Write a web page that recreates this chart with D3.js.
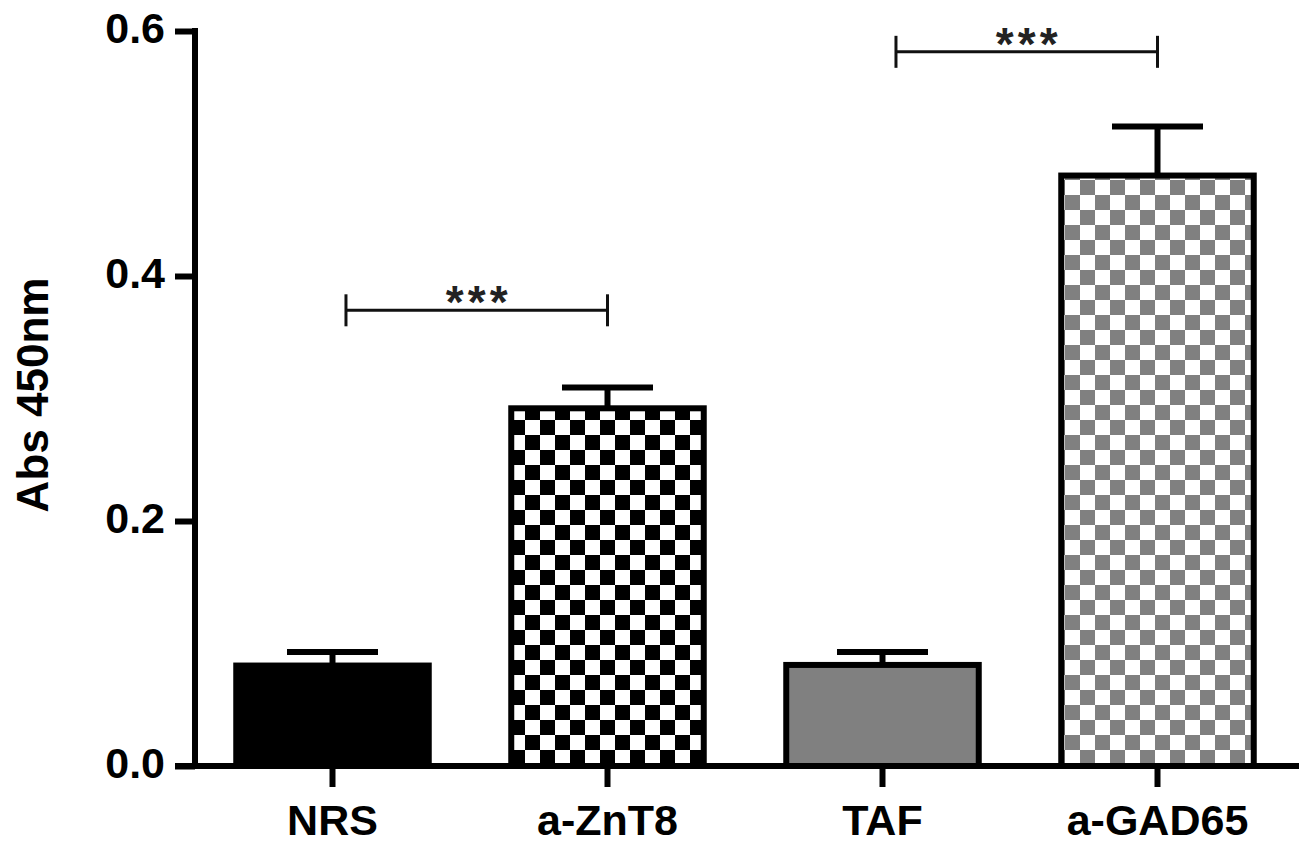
<!DOCTYPE html>
<html>
<head>
<meta charset="utf-8">
<script src="https://cdn.jsdelivr.net/npm/d3@7"></script>
<style>
  html, body { margin: 0; padding: 0; background: #fff; }
  svg { display: block; }
</style>
</head>
<body>
<div id="chart"></div>
<script>
// Data
const categories = ['NRS', 'a-ZnT8', 'TAF', 'a-GAD65'];
const means = [0.082, 0.292, 0.0825, 0.482];
const errTops = [0.093, 0.309, 0.093, 0.522];
const fills = ['solid-black', 'check-black', 'solid-gray', 'check-gray'];
const yTicks = [0.0, 0.2, 0.4, 0.6];
const brackets = [
  { from: 'NRS', to: 'a-ZnT8', level: 0.372, label: '***' },
  { from: 'TAF', to: 'a-GAD65', level: 0.583, label: '***' }
];

const width = 1299, height = 853;
const font = "'Liberation Sans', Arial, Helvetica, sans-serif";

const svg = d3.select('#chart')
  .append('svg')
  .attr('width', width)
  .attr('height', height);

// patterns
const defs = svg.append('defs');
const cell = 15;
function checker(id, color) {
  const p = defs.append('pattern')
    .attr('id', id)
    .attr('patternUnits', 'userSpaceOnUse')
    .attr('width', cell * 2)
    .attr('height', cell * 2);
  p.append('rect').attr('width', cell * 2).attr('height', cell * 2).attr('fill', '#fff');
  p.append('rect').attr('x', 0).attr('y', 0).attr('width', cell).attr('height', cell).attr('fill', color);
  p.append('rect').attr('x', cell).attr('y', cell).attr('width', cell).attr('height', cell).attr('fill', color);
}
checker('check-black', '#000');
checker('check-gray', '#808080');

const fillFor = {
  'solid-black': '#000',
  'solid-gray': '#808080',
  'check-black': 'url(#check-black)',
  'check-gray': 'url(#check-gray)'
};

const x = d3.scaleBand()
  .domain(categories)
  .range([195, 1295])
  .paddingInner(0.3)
  .paddingOuter(0.15);

const y = d3.scaleLinear()
  .domain([0, 0.6])
  .range([766, 31]);

const data = categories.map((c, i) => ({ name: c, mean: means[i], err: errTops[i], fill: fills[i] }));

// bars
svg.append('g')
  .selectAll('rect')
  .data(data)
  .enter()
  .append('rect')
  .attr('x', d => x(d.name))
  .attr('y', d => y(d.mean))
  .attr('width', x.bandwidth())
  .attr('height', d => y(0) - y(d.mean))
  .attr('fill', d => fillFor[d.fill])
  .attr('stroke', '#000')
  .attr('stroke-width', 6);

// error bars (upper only)
const capW = 91;
const eb = svg.append('g').attr('stroke', '#000').attr('stroke-width', 6);
data.forEach(d => {
  const cx = x(d.name) + x.bandwidth() / 2;
  eb.append('line')
    .attr('x1', cx).attr('x2', cx)
    .attr('y1', y(d.mean)).attr('y2', y(d.err));
  eb.append('line')
    .attr('x1', cx - capW / 2).attr('x2', cx + capW / 2)
    .attr('y1', y(d.err)).attr('y2', y(d.err));
});

// y axis
const yAxis = svg.append('g')
  .attr('transform', 'translate(195,0)')
  .call(d3.axisLeft(y).tickValues(yTicks).tickFormat(d3.format('.1f')).tickSize(20).tickPadding(10));
yAxis.select('.domain').remove();
yAxis.append('line')
  .attr('x1', 0).attr('x2', 0)
  .attr('y1', y(0.6) - 3).attr('y2', y(0) + 3)
  .attr('stroke', '#000').attr('stroke-width', 6);
yAxis.selectAll('.tick line').attr('stroke', '#000').attr('stroke-width', 6);
yAxis.selectAll('.tick text')
  .attr('fill', '#000')
  .attr('dy', null)
  .attr('y', 11)
  .style('font-family', font)
  .style('font-size', '43px')
  .style('font-weight', 'bold');

// x axis
const xAxis = svg.append('g')
  .attr('transform', `translate(0,${y(0)})`)
  .call(d3.axisBottom(x).tickSize(21).tickPadding(0));
xAxis.select('.domain').remove();
xAxis.append('line')
  .attr('x1', 175).attr('x2', width)
  .attr('y1', 0).attr('y2', 0)
  .attr('stroke', '#000').attr('stroke-width', 6);
xAxis.selectAll('.tick line').attr('stroke', '#000').attr('stroke-width', 6);
xAxis.selectAll('.tick text')
  .attr('fill', '#000')
  .attr('dy', null)
  .attr('y', 69)
  .style('font-family', font)
  .style('font-size', '43px')
  .style('font-weight', 'bold');

// y axis title
svg.append('text')
  .attr('transform', `translate(48,${395}) rotate(-90)`)
  .attr('text-anchor', 'middle')
  .style('font-family', font)
  .style('font-size', '44px')
  .style('font-weight', 'bold')
  .text('Abs 450nm');

// significance brackets
const bg = svg.append('g');
brackets.forEach(b => {
  // left end sits a little right of the bar centre in the original
  const x1 = x(b.from) + x.bandwidth() * 0.57;
  const x2 = x(b.to) + x.bandwidth() / 2;
  const by = y(b.level);
  bg.append('line')
    .attr('x1', x1).attr('x2', x2).attr('y1', by).attr('y2', by)
    .attr('stroke', '#111').attr('stroke-width', 3);
  [x1, x2].forEach(xx => {
    bg.append('line')
      .attr('x1', xx).attr('x2', xx).attr('y1', by - 16).attr('y2', by + 16)
      .attr('stroke', '#111').attr('stroke-width', 3);
  });
  const mid = (x1 + x2) / 2;
  b.label.split('').forEach((s, i, arr) => {
    bg.append('text')
      .attr('x', mid + (i - (arr.length - 1) / 2) * 22)
      .attr('y', by + 8)
      .attr('text-anchor', 'middle')
      .style('font-family', font)
      .style('font-size', '46px')
      .style('font-weight', 'bold')
      .style('fill', '#222')
      .text(s);
  });
});
</script>
</body>
</html>
